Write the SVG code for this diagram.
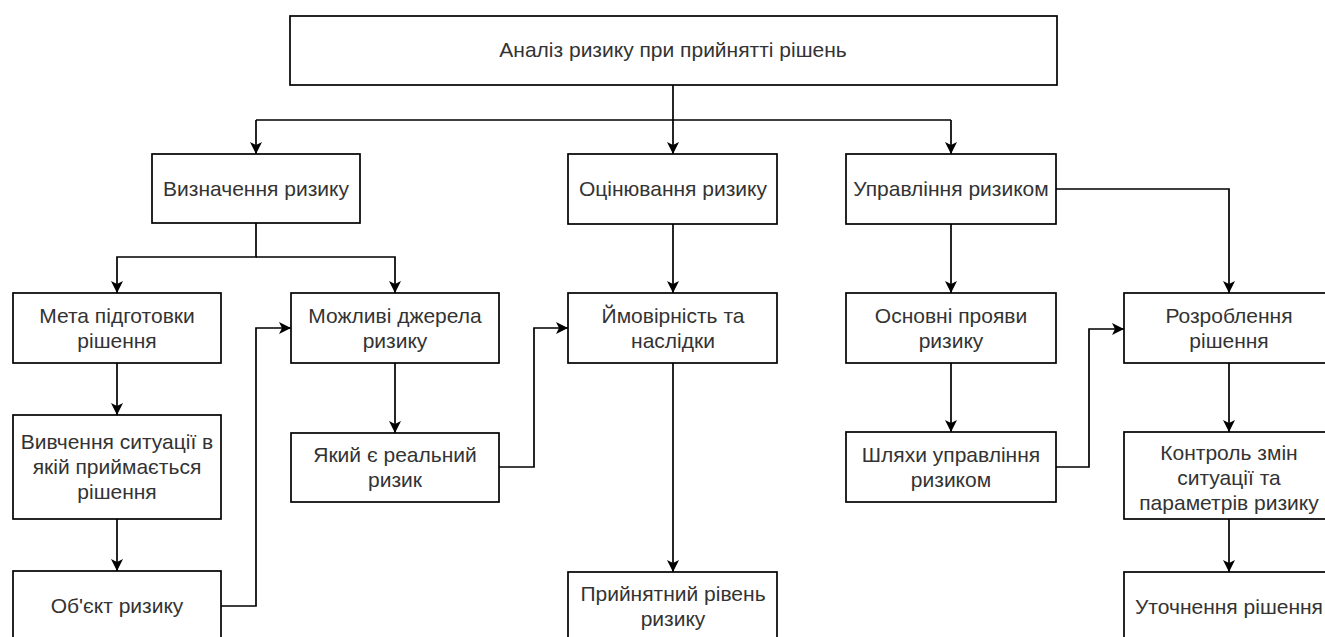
<svg xmlns="http://www.w3.org/2000/svg" width="1325" height="637" viewBox="0 0 1325 637">
<style>
.box{fill:#fff;stroke:#000;stroke-width:1.7}
.t{font-family:"Liberation Sans",Arial,sans-serif;font-size:21px;fill:#333;text-anchor:middle}
.c{fill:none;stroke:#000;stroke-width:1.7}
.a{marker-end:url(#arr)}
</style>
<defs>
<marker id="arr" markerUnits="userSpaceOnUse" markerWidth="13" markerHeight="13" refX="12" refY="6.5" orient="auto">
<path d="M0,0.5 L12,6.5 L0,12.5 L3,6.5 Z" fill="#000"/>
</marker>
</defs>
<rect width="1325" height="637" fill="#fff"/>
<g id="connectors">
<path class="c" d="M256,120 H951"/>
<path class="c a" d="M673,85 V154"/>
<path class="c a" d="M256,120 V154"/>
<path class="c a" d="M951,120 V154"/>
<path class="c a" d="M256,223 V257 H117 V293"/>
<path class="c a" d="M256,257 H395 V293"/>
<path class="c a" d="M117,363 V415"/>
<path class="c a" d="M117,519 V571"/>
<path class="c a" d="M221,606 H256 V328 H291"/>
<path class="c a" d="M395,363 V433"/>
<path class="c a" d="M499,467 H534 V328 H568"/>
<path class="c a" d="M673,224 V293"/>
<path class="c a" d="M673,363 V572"/>
<path class="c a" d="M951,224 V293"/>
<path class="c a" d="M951,363 V432"/>
<path class="c a" d="M1056,189 H1229 V293"/>
<path class="c a" d="M1056,467 H1089 V329 H1124"/>
<path class="c a" d="M1229,363 V432"/>
<path class="c a" d="M1229,519 V572"/>
</g>
<g id="n-top"><rect class="box" x="290" y="16" width="767" height="69"/><text class="t" x="673" y="57">Аналіз ризику при прийнятті рішень</text></g>
<g id="n-def"><rect class="box" x="152" y="154" width="208" height="69"/><text class="t" x="256" y="196">Визначення ризику</text></g>
<g id="n-eval"><rect class="box" x="568" y="154" width="209" height="70"/><text class="t" x="673" y="196">Оцінювання ризику</text></g>
<g id="n-mgmt"><rect class="box" x="846" y="154" width="210" height="70"/><text class="t" x="951" y="196">Управління ризиком</text></g>
<g id="n-meta"><rect class="box" x="13" y="293" width="208" height="70"/><text class="t" x="117" y="323">Мета підготовки</text><text class="t" x="117" y="348">рішення</text></g>
<g id="n-study"><rect class="box" x="13" y="415" width="208" height="104"/><text class="t" x="117" y="449">Вивчення ситуації в</text><text class="t" x="117" y="474">якій приймається</text><text class="t" x="117" y="499">рішення</text></g>
<g id="n-object"><rect class="box" x="13" y="571" width="208" height="70"/><text class="t" x="117" y="613">Об'єкт ризику</text></g>
<g id="n-sources"><rect class="box" x="291" y="293" width="208" height="70"/><text class="t" x="395" y="323">Можливі джерела</text><text class="t" x="395" y="348">ризику</text></g>
<g id="n-real"><rect class="box" x="291" y="433" width="208" height="69"/><text class="t" x="395" y="462">Який є реальний</text><text class="t" x="395" y="487">ризик</text></g>
<g id="n-prob"><rect class="box" x="568" y="293" width="209" height="70"/><text class="t" x="673" y="323">Ймовірність та</text><text class="t" x="673" y="348">наслідки</text></g>
<g id="n-accept"><rect class="box" x="568" y="572" width="209" height="70"/><text class="t" x="673" y="601">Прийнятний рівень</text><text class="t" x="673" y="626">ризику</text></g>
<g id="n-manif"><rect class="box" x="846" y="293" width="210" height="70"/><text class="t" x="951" y="323">Основні прояви</text><text class="t" x="951" y="348">ризику</text></g>
<g id="n-ways"><rect class="box" x="846" y="432" width="210" height="70"/><text class="t" x="951" y="462">Шляхи управління</text><text class="t" x="951" y="487">ризиком</text></g>
<g id="n-dev"><rect class="box" x="1124" y="293" width="210" height="70"/><text class="t" x="1229" y="323">Розроблення</text><text class="t" x="1229" y="348">рішення</text></g>
<g id="n-ctrl"><rect class="box" x="1124" y="432" width="210" height="87"/><text class="t" x="1229" y="460">Контроль змін</text><text class="t" x="1229" y="485">ситуації та</text><text class="t" x="1229" y="510">параметрів ризику</text></g>
<g id="n-refine"><rect class="box" x="1124" y="572" width="210" height="70"/><text class="t" x="1229" y="614">Уточнення рішення</text></g>
</svg>
